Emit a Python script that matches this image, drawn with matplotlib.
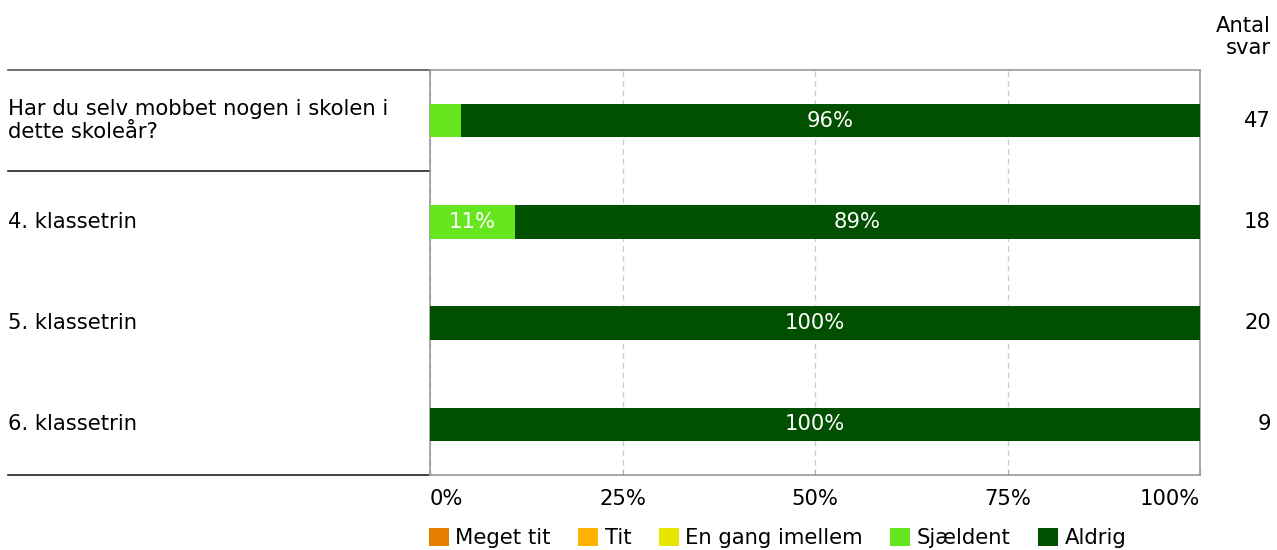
import matplotlib.pyplot as plt
from matplotlib.patches import Patch
import matplotlib.transforms as mtransforms

rows = ["Har du selv mobbet nogen i skolen i\ndette skoleår?",
        "4. klassetrin", "5. klassetrin", "6. klassetrin"]
categories = ["Meget tit", "Tit", "En gang imellem", "Sjældent", "Aldrig"]
colors = ["#E67E00", "#FFB300", "#E6E600", "#66E61E", "#005000"]
# percent per category for each row
values = [
    [0, 0, 0, 4, 96],
    [0, 0, 0, 11, 89],
    [0, 0, 0, 0, 100],
    [0, 0, 0, 0, 100],
]
counts = [47, 18, 20, 9]

plt.rcParams['font.family'] = ['DejaVu Sans']
fs = 15.2

fig = plt.figure(figsize=(12.77, 5.5), dpi=100)
W, H = 1277, 550
ax = fig.add_axes([430 / W, (H - 475) / H, 770 / W, 405 / H])

for i, row in enumerate(values):
    left = 0
    for j, v in enumerate(row):
        if v > 0:
            ax.barh(i, v, left=left, height=0.33, color=colors[j], zorder=3)
            if v >= 8:
                ax.text(left + v / 2, i, f"{v}%", color="white", ha="center",
                        va="center", fontsize=fs, zorder=4)
        left += v

ax.set_xlim(0, 100)
ax.set_ylim(3.5, -0.5)
ax.set_yticks([])
ax.set_xticks([0, 25, 50, 75, 100])
ax.set_xticklabels(["0%", "25%", "50%", "75%", "100%"], fontsize=fs)
labels = ax.get_xticklabels()
labels[0].set_horizontalalignment("left")
labels[-1].set_horizontalalignment("right")
ax.tick_params(axis="x", length=4, color="#aaaaaa", direction="in", pad=10)
ax.xaxis.grid(True, linestyle=(0, (4, 3)), color="#cccccc", linewidth=1, zorder=0)
for s in ax.spines.values():
    s.set_color("#999999")
    s.set_linewidth(1.2)

# left labels and separator lines
trans = mtransforms.blended_transform_factory(fig.transFigure, ax.transData)
for i, lab in enumerate(rows):
    ax.text(8 / W, i, lab, transform=trans, ha="left", va="center",
            fontsize=fs, linespacing=1.15)
    ax.text(1271 / W, i, str(counts[i]), transform=trans, ha="right",
            va="center", fontsize=fs)
for y, c in [(-0.5, "#555555"), (0.5, "#222222"), (3.5, "#222222")]:
    ax.plot([8 / W, 430 / W], [y, y], transform=trans, color=c,
            linewidth=1.2, clip_on=False)

fig.text(1271 / W, 1 - 37 / H, "Antal\nsvar", ha="right", va="center",
         fontsize=fs, multialignment="right", linespacing=1.1)

handles = [Patch(facecolor=c, edgecolor="none") for c in colors]
fig.legend(handles, categories, ncol=5, loc="center left",
           bbox_to_anchor=(429 / W, 1 - 538 / H), frameon=False, fontsize=fs,
           handlelength=0.95, handleheight=0.95, handletextpad=0.3,
           columnspacing=1.3, borderaxespad=0, borderpad=0)

fig.savefig("out.png", dpi=100)
